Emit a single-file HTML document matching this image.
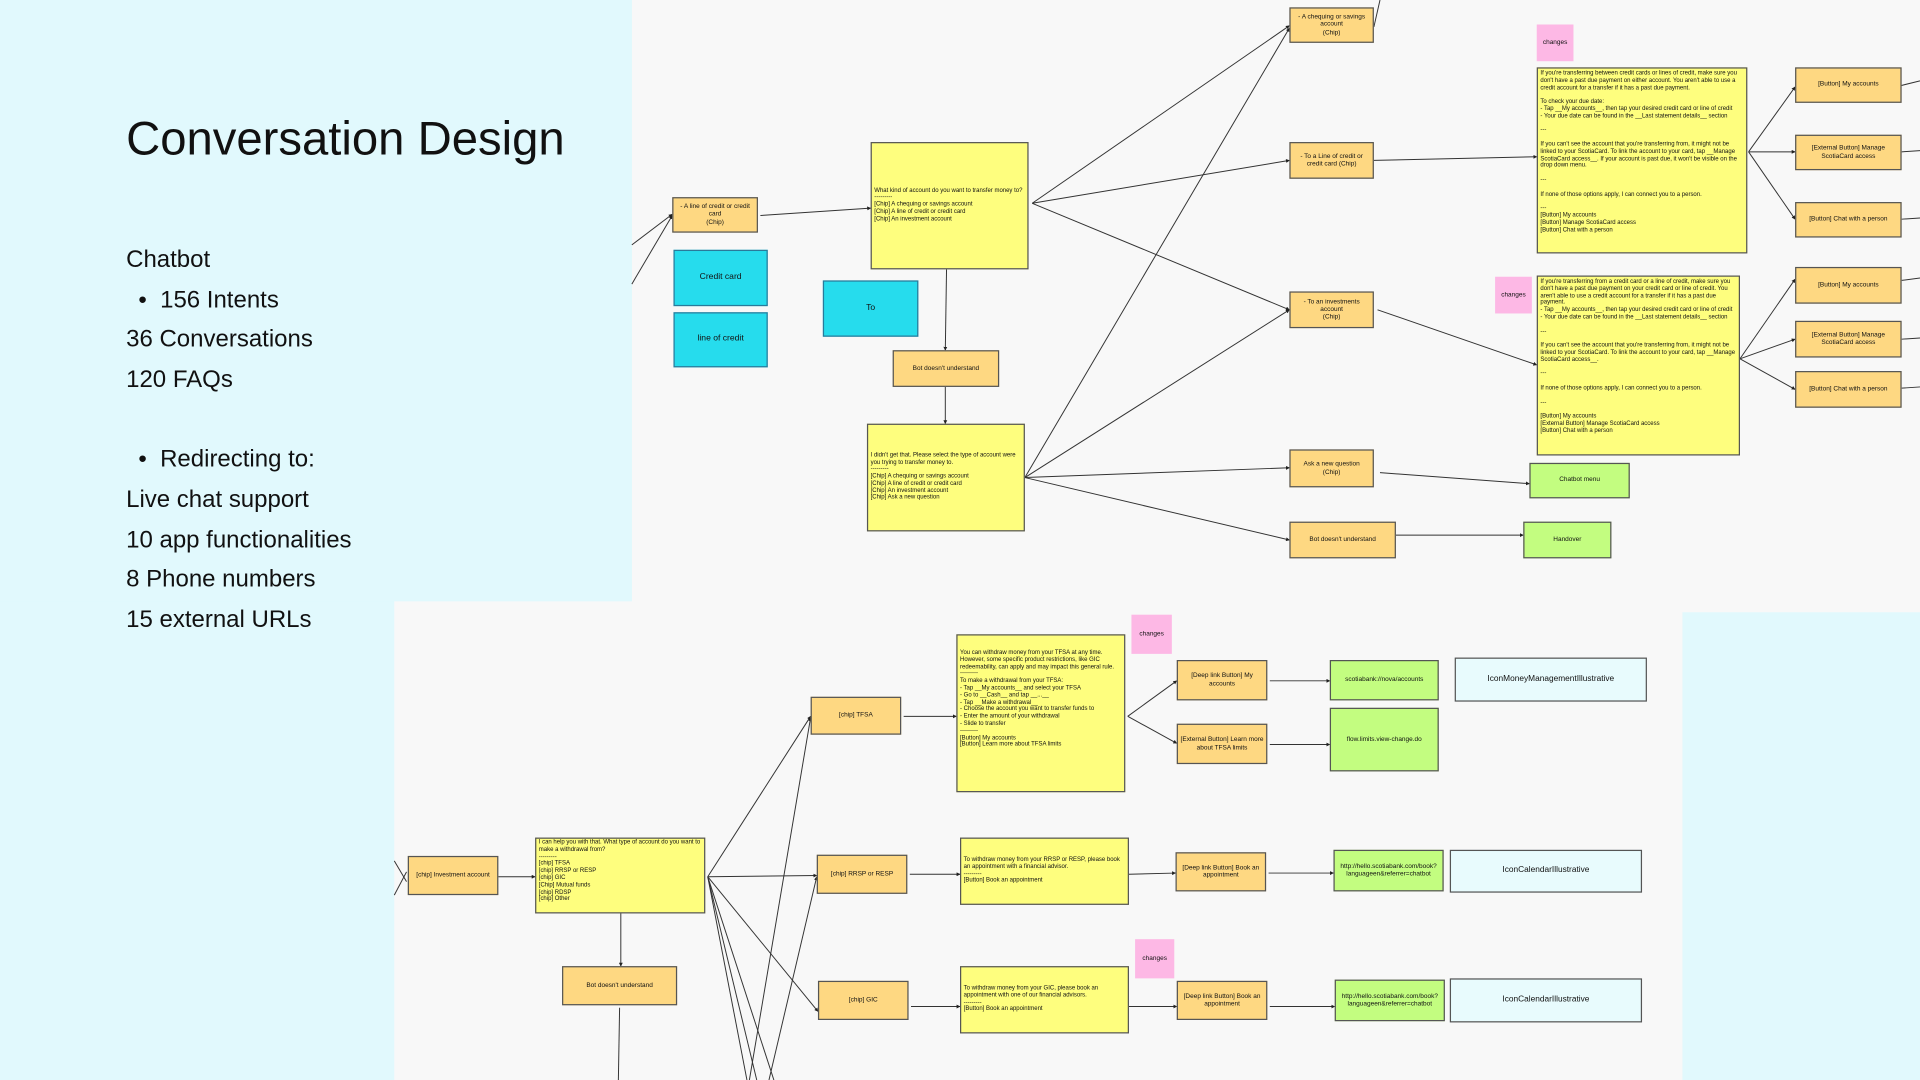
<!DOCTYPE html>
<html><head><meta charset="utf-8"><style>
html,body{margin:0;padding:0;width:1920px;height:1080px;overflow:hidden;background:#e1f9fd;font-family:"Liberation Sans",sans-serif;}
#w{position:absolute;left:0;top:0;width:1568px;height:882px;transform:scale(1.2244898);transform-origin:0 0;}
.bg{position:absolute;background:#f8f8f8;}
.n{position:absolute;box-sizing:border-box;border:1px solid #555;display:flex;align-items:center;justify-content:center;text-align:center;font-size:5.3px;line-height:6.2px;color:#111;padding:1px 2px;}
.o{background:#fed882;}
.y{background:#fefe7e;justify-content:flex-start;text-align:left;align-items:center;font-size:4.9px;line-height:5.8px;}
.g{background:#c3fd80;}
.c{background:#26dced;border-color:#2a7a9a;font-size:7px;}
.p{background:#fdb8e5;border:none;}
.l{background:#e8fbfd;font-size:6.8px;}
.t{position:absolute;left:103px;color:#111;font-size:19.6px;line-height:20px;}
svg{position:absolute;left:0;top:0;}
</style></head><body><div id="w">
<div class="bg" style="left:516px;top:0;width:1052px;height:500px"></div>
<div class="bg" style="left:322px;top:491px;width:1052px;height:391px"></div>
<div style="position:absolute;left:0;top:0;width:516px;height:491px;background:#e1f9fd"></div>

<div style="position:absolute;left:103px;top:92px;font-size:38.6px;color:#111;">Conversation Design</div>
<div class="t" style="top:202px">Chatbot</div>
<div class="t" style="top:235px;left:113px">•&nbsp;&nbsp;156 Intents</div>
<div class="t" style="top:267px">36 Conversations</div>
<div class="t" style="top:300px">120 FAQs</div>
<div class="t" style="top:365px;left:113px">•&nbsp;&nbsp;Redirecting to:</div>
<div class="t" style="top:398px">Live chat support</div>
<div class="t" style="top:431px">10 app functionalities</div>
<div class="t" style="top:463px">8 Phone numbers</div>
<div class="t" style="top:496px">15 external URLs</div>

<svg width="1568" height="882" viewBox="0 0 1568 882">
<defs><marker id="a" markerWidth="4" markerHeight="4" refX="3.5" refY="2" orient="auto"><path d="M0,0L4,2L0,4z" fill="#222"/></marker></defs>
<g stroke="#333" stroke-width="0.8" fill="none" marker-end="url(#a)">
<line x1="516" y1="200" x2="549" y2="175"/><line x1="516" y1="232" x2="549" y2="176"/>
<line x1="621" y1="176" x2="711" y2="170"/>
<line x1="843" y1="166" x2="1053" y2="21"/><line x1="843" y1="166" x2="1053" y2="131"/><line x1="843" y1="166" x2="1053" y2="253"/>
<line x1="773" y1="220" x2="772" y2="286"/><line x1="772" y1="316" x2="772" y2="346"/>
<line x1="837" y1="390" x2="1053" y2="23"/><line x1="837" y1="390" x2="1053" y2="253"/><line x1="837" y1="390" x2="1053" y2="382"/><line x1="837" y1="390" x2="1053" y2="441"/>
<line x1="1122" y1="131" x2="1255" y2="128"/><line x1="1125" y1="253" x2="1255" y2="298"/>
<line x1="1127" y1="386" x2="1249" y2="395"/><line x1="1140" y1="437" x2="1244" y2="437"/>
<line x1="1428" y1="124" x2="1466" y2="71"/><line x1="1428" y1="124" x2="1466" y2="124"/><line x1="1428" y1="124" x2="1466" y2="179"/>
<line x1="1421" y1="293" x2="1466" y2="228"/><line x1="1421" y1="293" x2="1466" y2="277"/><line x1="1421" y1="293" x2="1466" y2="318"/>
<line x1="407" y1="716" x2="437" y2="716"/>
<line x1="578" y1="716" x2="662" y2="585"/><line x1="578" y1="716" x2="667" y2="715"/><line x1="578" y1="716" x2="668" y2="826"/>
<line x1="507" y1="746" x2="507" y2="789"/>
<line x1="612" y1="882" x2="662" y2="586"/><line x1="628" y1="882" x2="667" y2="716"/>
<line x1="738" y1="585" x2="781" y2="585"/><line x1="743" y1="714" x2="784" y2="714"/><line x1="744" y1="822" x2="784" y2="822"/>
<line x1="921" y1="585" x2="961" y2="556"/><line x1="921" y1="585" x2="961" y2="607"/>
<line x1="1037" y1="556" x2="1086" y2="556"/><line x1="1037" y1="608" x2="1086" y2="608"/>
<line x1="922" y1="714" x2="960" y2="713"/><line x1="1036" y1="713" x2="1089" y2="713"/>
<line x1="922" y1="822" x2="961" y2="822"/><line x1="1037" y1="822" x2="1090" y2="822"/>
</g>
<g stroke="#333" stroke-width="0.8" fill="none">
<line x1="1122" y1="22" x2="1127" y2="0"/>
<line x1="1552" y1="70" x2="1568" y2="66"/><line x1="1553" y1="124" x2="1568" y2="123"/><line x1="1553" y1="179" x2="1568" y2="178"/>
<line x1="1553" y1="229" x2="1568" y2="227"/><line x1="1553" y1="277" x2="1568" y2="276"/><line x1="1553" y1="317" x2="1568" y2="316"/>
<line x1="322" y1="703" x2="332" y2="720"/><line x1="322" y1="731" x2="332" y2="712"/>
<line x1="578" y1="716" x2="610" y2="882"/><line x1="578" y1="716" x2="618" y2="882"/><line x1="578" y1="716" x2="632" y2="882"/>
<line x1="506" y1="823" x2="505" y2="882"/>
</g>
</svg>

<div class="n o" style="left:549px;top:161px;width:70px;height:29px">- A line of credit or credit card<br>(Chip)</div>
<div class="n c" style="left:550px;top:204px;width:77px;height:46px">Credit card</div>
<div class="n c" style="left:550px;top:255px;width:77px;height:45px">line of credit</div>
<div class="n c" style="left:672px;top:229px;width:78px;height:46px">To</div>
<div class="n y" style="left:711px;top:116px;width:129px;height:104px"><div>What kind of account do you want to transfer money to?<br>---------<br>[Chip] A chequing or savings account<br>[Chip] A line of credit or credit card<br>[Chip] An investment account</div></div>
<div class="n o" style="left:729px;top:286px;width:87px;height:30px">Bot doesn't understand</div>
<div class="n y" style="left:708px;top:346px;width:129px;height:88px"><div>I didn't get that. Please select the type of account were you trying to transfer money to.<br>---------<br>[Chip] A chequing or savings account<br>[Chip] A line of credit or credit card<br>[Chip] An investment account<br>[Chip] Ask a new question</div></div>
<div class="n o" style="left:1053px;top:6px;width:69px;height:29px">- A chequing or savings account<br>(Chip)</div>
<div class="n o" style="left:1053px;top:116px;width:69px;height:30px">- To a Line of credit or credit card (Chip)</div>
<div class="n o" style="left:1053px;top:238px;width:69px;height:30px">- To an investments account<br>(Chip)</div>
<div class="n o" style="left:1053px;top:367px;width:69px;height:31px">Ask a new question<br>(Chip)</div>
<div class="n o" style="left:1053px;top:426px;width:87px;height:30px">Bot doesn't understand</div>
<div class="n p" style="left:1255px;top:20px;width:30px;height:30px">changes</div>
<div class="n y" style="left:1255px;top:55px;width:172px;height:152px;align-items:flex-start;padding-top:2px"><div>If you're transferring between credit cards or lines of credit, make sure you don't have a past due payment on either account. You aren't able to use a credit account for a transfer if it has a past due payment.<br><br>To check your due date:<br>- Tap __My accounts__, then tap your desired credit card or line of credit<br>- Your due date can be found in the __Last statement details__ section<br><br>---<br><br>If you can't see the account that you're transferring from, it might not be linked to your ScotiaCard. To link the account to your card, tap __Manage ScotiaCard access__. If your account is past due, it won't be visible on the drop down menu.<br><br>---<br><br>If none of those options apply, I can connect you to a person.<br><br>---<br>[Button] My accounts<br>[Button] Manage ScotiaCard access<br>[Button] Chat with a person</div></div>
<div class="n p" style="left:1221px;top:226px;width:30px;height:30px">changes</div>
<div class="n y" style="left:1255px;top:225px;width:166px;height:147px;align-items:flex-start;padding-top:2px"><div>If you're transferring from a credit card or a line of credit, make sure you don't have a past due payment on your credit card or line of credit. You aren't able to use a credit account for a transfer if it has a past due payment.<br>- Tap __My accounts__, then tap your desired credit card or line of credit<br>- Your due date can be found in the __Last statement details__ section<br><br>---<br><br>If you can't see the account that you're transferring from, it might not be linked to your ScotiaCard. To link the account to your card, tap __Manage ScotiaCard access__.<br><br>---<br><br>If none of those options apply, I can connect you to a person.<br><br>---<br><br>[Button] My accounts<br>[External Button] Manage ScotiaCard access<br>[Button] Chat with a person</div></div>
<div class="n g" style="left:1249px;top:378px;width:82px;height:29px">Chatbot menu</div>
<div class="n g" style="left:1244px;top:426px;width:72px;height:30px">Handover</div>
<div class="n o" style="left:1466px;top:55px;width:87px;height:29px">[Button] My accounts</div>
<div class="n o" style="left:1466px;top:110px;width:87px;height:29px">[External Button] Manage ScotiaCard access</div>
<div class="n o" style="left:1466px;top:165px;width:87px;height:29px">[Button] Chat with a person</div>
<div class="n o" style="left:1466px;top:218px;width:87px;height:30px">[Button] My accounts</div>
<div class="n o" style="left:1466px;top:262px;width:87px;height:30px">[External Button] Manage ScotiaCard access</div>
<div class="n o" style="left:1466px;top:303px;width:87px;height:30px">[Button] Chat with a person</div>

<div class="n o" style="left:333px;top:699px;width:74px;height:32px">[chip] Investment account</div>
<div class="n y" style="left:437px;top:684px;width:139px;height:62px;align-items:flex-start"><div>I can help you with that. What type of account do you want to make a withdrawal from?<br>---------<br>[chip] TFSA<br>[chip] RRSP or RESP<br>[chip] GIC<br>[Chip] Mutual funds<br>[chip] RDSP<br>[chip] Other</div></div>
<div class="n o" style="left:459px;top:789px;width:94px;height:32px">Bot doesn't understand</div>
<div class="n o" style="left:662px;top:569px;width:74px;height:31px">[chip] TFSA</div>
<div class="n o" style="left:667px;top:698px;width:74px;height:32px">[chip] RRSP or RESP</div>
<div class="n o" style="left:668px;top:801px;width:74px;height:32px">[chip] GIC</div>
<div class="n y" style="left:781px;top:518px;width:138px;height:129px;align-items:flex-start;padding-top:12px"><div>You can withdraw money from your TFSA at any time. However, some specific product restrictions, like GIC redeemability, can apply and may impact this general rule.<br>---------<br>To make a withdrawal from your TFSA:<br>- Tap __My accounts__ and select your TFSA<br>- Go to __Cash__ and tap __...__<br>- Tap __Make a withdrawal__<br>- Choose the account you want to transfer funds to<br>- Enter the amount of your withdrawal<br>- Slide to transfer<br>---------<br>[Button] My accounts<br>[Button] Learn more about TFSA limits</div></div>
<div class="n y" style="left:784px;top:684px;width:138px;height:55px"><div>To withdraw money from your RRSP or RESP, please book an appointment with a financial advisor.<br>---------<br>[Button] Book an appointment</div></div>
<div class="n y" style="left:784px;top:789px;width:138px;height:55px"><div>To withdraw money from your GIC, please book an appointment with one of our financial advisors.<br>---------<br>[Button] Book an appointment</div></div>
<div class="n p" style="left:924px;top:502px;width:33px;height:32px">changes</div>
<div class="n p" style="left:927px;top:767px;width:32px;height:32px">changes</div>
<div class="n o" style="left:961px;top:539px;width:74px;height:33px">[Deep link Button] My accounts</div>
<div class="n o" style="left:961px;top:591px;width:74px;height:33px">[External Button] Learn more about TFSA limits</div>
<div class="n g" style="left:1086px;top:539px;width:89px;height:33px">scotiabank://nova/accounts</div>
<div class="n g" style="left:1086px;top:578px;width:89px;height:52px">flow.limits.view-change.do</div>
<div class="n l" style="left:1188px;top:537px;width:157px;height:36px">IconMoneyManagementIllustrative</div>
<div class="n o" style="left:960px;top:696px;width:74px;height:32px">[Deep link Button] Book an appointment</div>
<div class="n g" style="left:1089px;top:694px;width:90px;height:34px">http://hello.scotiabank.com/book?languageen&amp;referrer=chatbot</div>
<div class="n l" style="left:1184px;top:694px;width:157px;height:35px">IconCalendarIllustrative</div>
<div class="n o" style="left:961px;top:801px;width:74px;height:32px">[Deep link Button] Book an appointment</div>
<div class="n g" style="left:1090px;top:800px;width:90px;height:34px">http://hello.scotiabank.com/book?languageen&amp;referrer=chatbot</div>
<div class="n l" style="left:1184px;top:799px;width:157px;height:36px">IconCalendarIllustrative</div>
</div></body></html>
